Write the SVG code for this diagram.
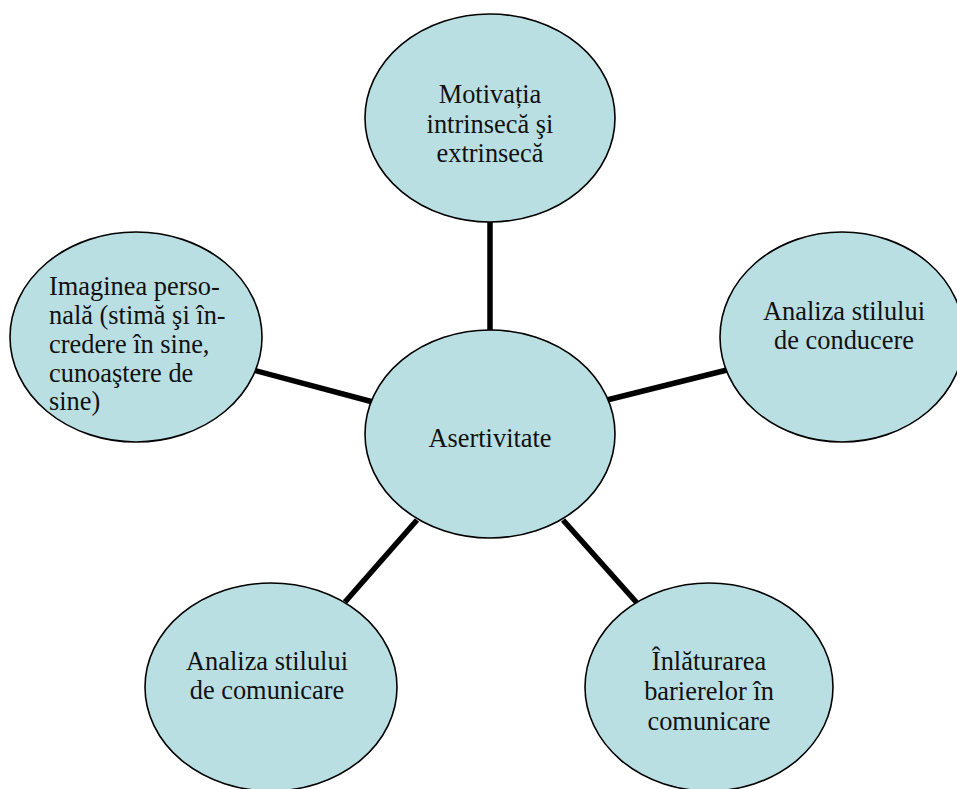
<svg xmlns="http://www.w3.org/2000/svg" width="957" height="789" viewBox="0 0 957 789">
<style>
.node{fill:#BADFE3;stroke:#000;stroke-width:1.6}
.conn{stroke:#000;stroke-width:5.5;fill:none}
text{font-family:"Liberation Serif","Times New Roman",serif;font-size:26.4px;fill:#111}
.c{text-anchor:middle}
</style>
<rect width="957" height="789" fill="#fff"/>
<g id="connectors">
<line class="conn" x1="490" y1="222" x2="490" y2="331"/>
<line class="conn" x1="253" y1="370" x2="373" y2="402"/>
<line class="conn" x1="607" y1="400" x2="727" y2="370"/>
<line class="conn" x1="417" y1="520" x2="345" y2="602"/>
<line class="conn" x1="563" y1="520" x2="637" y2="603"/>
</g>
<g id="node-top">
<ellipse class="node" cx="490" cy="118" rx="125" ry="104"/>
<text class="c" x="490" y="103">Motivația</text>
<text class="c" x="490" y="132.5">intrinsecă şi</text>
<text class="c" x="490" y="162">extrinsecă</text>
</g>
<g id="node-right">
<ellipse class="node" cx="842" cy="337" rx="122" ry="105"/>
<text class="c" x="844" y="320">Analiza stilului</text>
<text class="c" x="844" y="348.5">de conducere</text>
</g>
<g id="node-left">
<ellipse class="node" cx="136" cy="337" rx="126" ry="105"/>
<text x="49" y="295">Imaginea perso-</text>
<text x="49" y="324">nală (stimă şi în-</text>
<text x="49" y="353">credere în sine,</text>
<text x="49" y="382">cunoaştere de</text>
<text x="49" y="410">sine)</text>
</g>
<g id="node-center">
<ellipse class="node" cx="490" cy="434" rx="125" ry="104"/>
<text class="c" x="490" y="447">Asertivitate</text>
</g>
<g id="node-bottom-left">
<ellipse class="node" cx="271" cy="687" rx="126" ry="104"/>
<text class="c" x="267" y="670">Analiza stilului</text>
<text class="c" x="267" y="698.5">de comunicare</text>
</g>
<g id="node-bottom-right">
<ellipse class="node" cx="709" cy="687" rx="124" ry="104"/>
<text class="c" x="709" y="670">Înlăturarea</text>
<text class="c" x="709" y="700">barierelor în</text>
<text class="c" x="709" y="730">comunicare</text>
</g>
</svg>
